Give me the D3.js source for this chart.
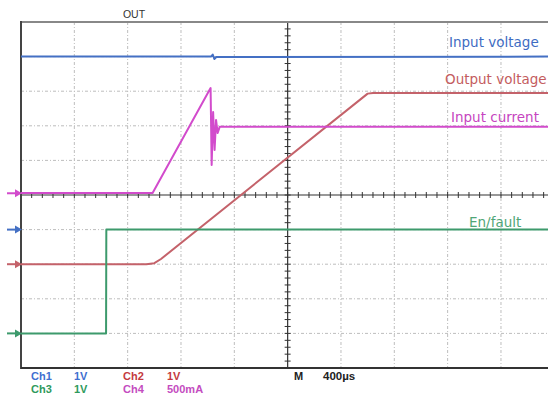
<!DOCTYPE html>
<html>
<head>
<meta charset="utf-8">
<script src="https://cdn.jsdelivr.net/npm/d3@7"></script>
<style>
  body { margin: 0; background: #fff; }
  svg { display: block; }
</style>
</head>
<body>
<div id="scope"></div>
<script>
// time in µs (M = 400µs/div, 0 = trigger at screen centre), level in screen divisions
const inputVoltage  = [[-2000, 4.0], [-575, 4.0], [-562, 4.06], [-550, 3.93], [-535, 3.99], [2000, 4.0]];
const outputVoltage = [[-2000, -2.0], [-1060, -2.0], [-1000, -1.97], [-950, -1.85], [600, 2.93], [640, 2.95], [2000, 2.95]];
const inputCurrent  = [[-2000, 0.06], [-1013, 0.06], [-578, 3.09], [-570, 0.87], [-559, 2.40], [-548, 1.30],
                       [-537, 2.17], [-525, 1.79], [-510, 1.97], [2000, 1.97]];
const enFault       = [[-2000, -4.0], [-1362, -4.0], [-1360, -1.0], [2000, -1.0]];

// ground markers on the left edge (divisions)
const markerLevels = {ch4: 0.05, ch1: -1.0, ch2: -2.0, ch3: -4.0};

const traceNames = ['Input voltage', 'Output voltage', 'Input current', 'En/fault'];
const channelNames = ['Ch1', 'Ch2', 'Ch3', 'Ch4'];
const channelScales = ['1V', '1V', '1V', '500mA'];
const timeBase = '400µs';

class ScopeChart {
    constructor(_config) {
        this.config = {
            parentElement: _config.parentElement,
            containerWidth: _config.containerWidth || 548,
            containerHeight: _config.containerHeight || 394,
            margin: _config.margin || {top: 22, left: 21, bottom: 26}
        }
        this.colors = {
            ch1: '#4470c4', ch2: '#c4626a', ch3: '#3d9a6c', ch4: '#d24bcc'
        }
        this.initVis();
    }

    initVis() {
        let vis = this;
        const m = vis.config.margin;
        vis.divW = 53.33;
        vis.height = vis.config.containerHeight - m.top - m.bottom;

        vis.svg = d3.select(vis.config.parentElement).append('svg')
            .attr('width', vis.config.containerWidth)
            .attr('height', vis.config.containerHeight);

        // 10 x 10 divisions, right edge falls outside the picture
        vis.xScale = d3.scaleLinear().domain([-2000, 2000]).range([m.left, m.left + 10 * vis.divW]);
        vis.yScale = d3.scaleLinear().domain([-5, 5]).range([m.top + vis.height, m.top]);

        vis.grid = vis.svg.append('g');
        vis.traces = vis.svg.append('g');
        vis.labels = vis.svg.append('g');
    }

    renderVis() {
        let vis = this;
        const x = vis.xScale, y = vis.yScale;
        const x0 = x.range()[0], x1 = x.range()[1];
        const y0 = y.range()[0], y1 = y.range()[1];

        // dash-dot graticule
        vis.grid.selectAll('.vgrid')
            .data(d3.range(-1600, 2001, 400).filter(d => d !== 0))
            .join('line')
            .attr('class', 'vgrid')
            .attr('x1', d => x(d)).attr('x2', d => x(d))
            .attr('y1', y1).attr('y2', y0)
            .attr('stroke', '#bdbdbd').attr('stroke-width', 1)
            .attr('stroke-dasharray', '3,2,1,2');

        vis.grid.selectAll('.hgrid')
            .data(d3.range(-4, 5, 1).filter(d => d !== 0))
            .join('line')
            .attr('class', 'hgrid')
            .attr('x1', x0).attr('x2', x1)
            .attr('y1', d => y(d)).attr('y2', d => y(d))
            .attr('stroke', '#bdbdbd').attr('stroke-width', 1)
            .attr('stroke-dasharray', '3,2,1,2');

        // centre cross with minor ticks (5 per division)
        vis.grid.append('line')
            .attr('x1', x(0)).attr('x2', x(0)).attr('y1', y1).attr('y2', y0)
            .attr('stroke', '#333').attr('stroke-width', 1.2);
        vis.grid.append('line')
            .attr('x1', x0).attr('x2', x1).attr('y1', y(0)).attr('y2', y(0))
            .attr('stroke', '#333').attr('stroke-width', 1.2);

        vis.grid.selectAll('.yminor')
            .data(d3.range(-5, 5.01, 0.2))
            .join('line')
            .attr('class', 'yminor')
            .attr('x1', x(0) - 3).attr('x2', x(0) + 3)
            .attr('y1', d => y(d)).attr('y2', d => y(d))
            .attr('stroke', '#333').attr('stroke-width', 1);

        vis.grid.selectAll('.xminor')
            .data(d3.range(-2000, 2001, 80))
            .join('line')
            .attr('class', 'xminor')
            .attr('x1', d => x(d)).attr('x2', d => x(d))
            .attr('y1', y(0) - 3).attr('y2', y(0) + 3)
            .attr('stroke', '#333').attr('stroke-width', 1);

        // frame
        vis.grid.append('line')
            .attr('x1', x0).attr('x2', x1).attr('y1', y1).attr('y2', y1)
            .attr('stroke', '#888').attr('stroke-width', 2);
        vis.grid.append('line')
            .attr('x1', x0).attr('x2', x0).attr('y1', y1 - 1).attr('y2', y0 + 1)
            .attr('stroke', '#444').attr('stroke-width', 2);
        vis.grid.append('line')
            .attr('x1', x0).attr('x2', x1).attr('y1', y0).attr('y2', y0)
            .attr('stroke', '#333').attr('stroke-width', 2);

        const line = d3.line().x(d => x(d[0])).y(d => y(d[1]));

        const series = [
            {key: 'ch1', data: inputVoltage},
            {key: 'ch2', data: outputVoltage},
            {key: 'ch3', data: enFault},
            {key: 'ch4', data: inputCurrent}
        ];

        vis.traces.selectAll('path')
            .data(series)
            .join('path')
            .attr('d', d => line(d.data))
            .attr('fill', 'none')
            .attr('stroke', d => vis.colors[d.key])
            .attr('stroke-width', 2)
            .attr('stroke-linejoin', 'round');

        // ground level arrows
        const markers = vis.traces.selectAll('.marker')
            .data(Object.entries(markerLevels))
            .join('g')
            .attr('class', 'marker')
            .attr('transform', d => `translate(${x0},${y(d[1])})`);
        markers.append('line')
            .attr('x1', -14).attr('x2', -5).attr('y1', 0).attr('y2', 0)
            .attr('stroke', d => vis.colors[d[0]]).attr('stroke-width', 2);
        markers.append('path')
            .attr('d', 'M-6,-4L1,0L-6,4Z')
            .attr('fill', d => vis.colors[d[0]]);

        // trace annotations
        const textColors = ['#3e6cc2', '#c45c5e', '#c645c0', '#4fa677'];
        const textPos = [[449, 47], [445, 84], [451, 121.5], [469, 226.5]];
        vis.labels.selectAll('.tname')
            .data(traceNames)
            .join('text')
            .attr('class', 'tname')
            .attr('x', (d, i) => textPos[i][0])
            .attr('y', (d, i) => textPos[i][1])
            .attr('fill', (d, i) => textColors[i])
            .style('font-family', '"DejaVu Sans", sans-serif')
            .style('font-size', '13.5px')
            .text(d => d);

        vis.labels.append('text')
            .attr('x', 134).attr('y', 18)
            .attr('text-anchor', 'middle')
            .attr('fill', '#333')
            .style('font-family', '"Liberation Sans", Arial, sans-serif')
            .style('font-size', '10.5px')
            .text('OUT');

        // channel settings under the screen
        const chanColors = ['#3f6fd0', '#c43a3e', '#2f9a5c', '#c44cc0'];
        const cols = [[31, 74], [123, 167], [31, 74], [123, 167]];
        const rows = [380, 380, 393, 393];
        const footer = vis.labels.selectAll('.chan')
            .data(channelNames)
            .join('g')
            .attr('class', 'chan')
            .style('font-family', '"Liberation Sans", Arial, sans-serif')
            .style('font-size', '11px')
            .style('font-weight', 'bold');
        footer.append('text')
            .attr('x', (d, i) => cols[i][0]).attr('y', (d, i) => rows[i])
            .attr('fill', (d, i) => chanColors[i])
            .text(d => d);
        footer.append('text')
            .attr('x', (d, i) => cols[i][1]).attr('y', (d, i) => rows[i])
            .attr('fill', (d, i) => chanColors[i])
            .text((d, i) => channelScales[i]);

        vis.labels.append('text')
            .attr('x', 294).attr('y', 380)
            .attr('fill', '#222')
            .style('font-family', '"Liberation Sans", Arial, sans-serif')
            .style('font-size', '11px').style('font-weight', 'bold')
            .text('M');
        vis.labels.append('text')
            .attr('x', 323).attr('y', 380)
            .attr('fill', '#222')
            .style('font-family', '"Liberation Sans", Arial, sans-serif')
            .style('font-size', '11.5px').style('font-weight', 'bold')
            .text(timeBase);
    }
}

const scope = new ScopeChart({parentElement: '#scope'});
scope.renderVis();
</script>
</body>
</html>
